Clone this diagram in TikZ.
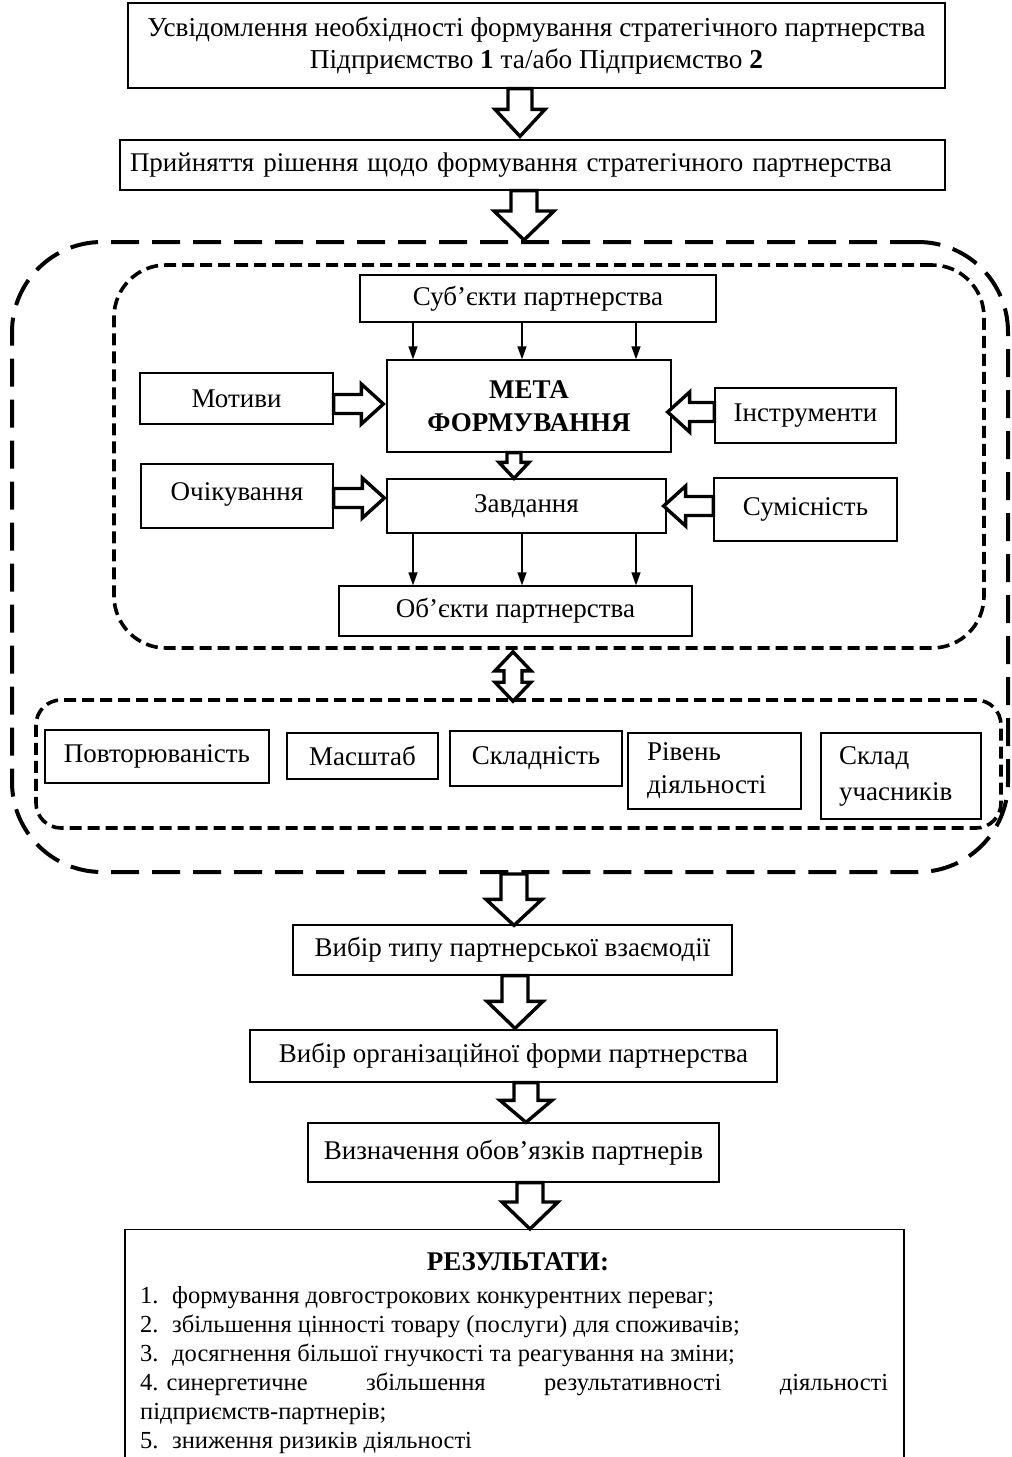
\documentclass[tikz,border=0pt]{standalone}
\usepackage{fontspec}
\setmainfont{Liberation Serif}
\usetikzlibrary{calc,arrows.meta}
\newcommand\fsz{\fontsize{27pt}{32pt}\selectfont}
\newcommand\rsz{\fontsize{24.5pt}{29pt}\selectfont}
\newcommand\numlab[1]{\makebox[32pt][l]{#1}}
\tikzset{
  box/.style={draw, line width=1.3pt, inner sep=0pt, align=center, font=\fsz},
  leftbox/.style={box, align=left},
  blockarrow/.style={draw, line width=3.4pt, fill=white, line join=miter, miter limit=10},
  outerdash/.style={draw, line width=4pt, dash pattern=on 28pt off 13pt, rounded corners=90pt, inner sep=0pt},
  innerdash/.style={draw, line width=3.6pt, dash pattern=on 12pt off 6pt, inner sep=0pt},
  thinarrow/.style={line width=1.4pt, -{Triangle[length=13pt,width=9pt]}},
  txt/.style={font=\rsz, inner sep=0pt}
}
\newcommand\blockarr[5]{%
  \coordinate (bh) at ($(#2)!#5!(#1)$);
  \draw[blockarrow] ($(#1)!#3!90:(#2)$) -- ($(bh)!#3!90:(#2)$) -- ($(bh)!#4!90:(#2)$) -- (#2)
     -- ($(bh)!#4!-90:(#2)$) -- ($(bh)!#3!-90:(#2)$) -- ($(#1)!#3!-90:(#2)$) -- cycle;}
\newcommand\blockdarr[5]{%
  \coordinate (bha) at ($(#1)!#5!(#2)$);
  \coordinate (bhb) at ($(#2)!#5!(#1)$);
  \draw[blockarrow] (#1) -- ($(bha)!#4!90:(#2)$) -- ($(bha)!#3!90:(#2)$) -- ($(bhb)!#3!90:(#2)$)
     -- ($(bhb)!#4!90:(#2)$) -- (#2) -- ($(bhb)!#4!-90:(#2)$) -- ($(bhb)!#3!-90:(#2)$)
     -- ($(bha)!#3!-90:(#2)$) -- ($(bha)!#4!-90:(#2)$) -- cycle;}
\begin{document}
\begin{tikzpicture}[x=1pt,y=-1pt]
\useasboundingbox (0,0) rectangle (1012,1457);

% dashed groups
\node[outerdash, minimum width=996pt, minimum height=630pt] (outer) at (510,557) {};
\node[innerdash, rounded corners=52pt, minimum width=870pt, minimum height=383pt] (grp1) at (549,456.5) {};
\node[innerdash, rounded corners=25pt, minimum width=965pt, minimum height=128pt] (grp2) at (518.5,764) {};

% top boxes
\node[box, minimum width=817pt, minimum height=85pt, font=\fontsize{27.3pt}{32pt}\selectfont] (top) at (536.5,45.5)
  {Усвідомлення необхідності формування стратегічного партнерства\\Підприємство \textbf{1} та/або Підприємство \textbf{2}};
\node[leftbox, minimum width=825pt, minimum height=50pt, text width=805pt, inner xsep=10pt] (decide) at (532.5,165)
  {Прийняття рішення щодо формування стратегічного партнерства};

% inner group 1
\node[box, minimum width=356pt, minimum height=47pt] (subj) at (538,298.5) {Суб’єкти партнерства};
\node[box, minimum width=284pt, minimum height=92pt, font=\fontsize{27pt}{33pt}\selectfont\bfseries] (meta) at (529,406) {МЕТА\\ФОРМУВАННЯ};
\node[box, minimum width=193pt, minimum height=51pt] (mot) at (236.5,398.5) {Мотиви};
\node[box, minimum width=181pt, minimum height=55pt] (instr) at (805.5,415.5) {Інструменти};
\node[box, minimum width=279pt, minimum height=54pt] (task) at (526.5,506) {Завдання};
\node[box, minimum width=192pt, minimum height=64pt] (expect) at (237,496) {\raisebox{9pt}{Очікування}};
\node[box, minimum width=183pt, minimum height=63pt] (compat) at (805.5,509.5) {Сумісність};
\node[box, minimum width=353pt, minimum height=50pt] (obj) at (515.5,611) {Об’єкти партнерства};

% inner group 2
\node[box, minimum width=224pt, minimum height=53pt] (rep) at (157,756.5) {Повторюваність};
\node[box, minimum width=151pt, minimum height=46pt] (scl) at (362.5,756) {Масштаб};
\node[box, minimum width=172pt, minimum height=55pt] (cmpx) at (536,758.5) {Складність};
\node[leftbox, minimum width=173pt, minimum height=76pt, text width=135pt, inner xsep=19pt, font=\fontsize{27pt}{33pt}\selectfont] (lvl) at (714.5,771) {Рівень\\діяльності};
\node[leftbox, minimum width=160pt, minimum height=86pt, text width=124pt, inner xsep=18pt, font=\fontsize{27pt}{36pt}\selectfont] (memb) at (901,776) {Склад\\учасників};

% lower boxes
\node[box, minimum width=439pt, minimum height=50pt] (type) at (512.5,950) {Вибір типу партнерської взаємодії};
\node[box, minimum width=527pt, minimum height=52pt] (form) at (513.5,1056) {Вибір організаційної форми партнерства};
\node[box, minimum width=411pt, minimum height=59pt] (duty) at (513.5,1152.5) {Визначення обов’язків партнерів};
\node[draw, line width=1.3pt, inner sep=0pt, anchor=north, minimum width=779pt, minimum height=250pt] (res) at (514.5,1229) {};

% results text
\node[txt, anchor=base, font=\fontsize{27pt}{32pt}\selectfont\bfseries] (rtitle) at (518,1270) {РЕЗУЛЬТАТИ:};
\node[txt, anchor=base west] (r1) at (140,1303) {\numlab{1.}формування довгострокових конкурентних переваг;};
\node[txt, anchor=base west] (r2) at (140,1332) {\numlab{2.}збільшення цінності товару (послуги) для споживачів;};
\node[txt, anchor=base west] (r3) at (140,1361) {\numlab{3.}досягнення більшої гнучкості та реагування на зміни;};
\node[txt, anchor=base west] (r4) at (140,1390) {\makebox[748pt][s]{4. синергетичне\hfill збільшення\hfill результативності\hfill діяльності}};
\node[txt, anchor=base west] (r4b) at (140,1419) {підприємств-партнерів;};
\node[txt, anchor=base west] (r5) at (140,1448) {\numlab{5.}зниження ризиків діяльності};

% guide x-positions
\coordinate (xa) at (520,0);
\coordinate (xb) at (524,0);
\coordinate (xc) at (514,0);
\coordinate (xd) at (513,0);
\coordinate (xe) at (515,0);
\coordinate (xf) at (526,0);
\coordinate (xg) at (530,0);
\coordinate (xl) at (413,0);
\coordinate (xm) at (522,0);
\coordinate (xr) at (636,0);
\coordinate (yl) at (0,404);
\coordinate (yr) at (0,412);
\coordinate (yel) at (0,498);
\coordinate (yer) at (0,506);

% thin arrows
\draw[thinarrow] (subj.south -| xl) -- (meta.north -| xl);
\draw[thinarrow] (subj.south -| xm) -- (meta.north -| xm);
\draw[thinarrow] (subj.south -| xr) -- (meta.north -| xr);
\draw[thinarrow] (task.south -| xl) -- (obj.north -| xl);
\draw[thinarrow] (task.south -| xm) -- (obj.north -| xm);
\draw[thinarrow] (task.south -| xr) -- (obj.north -| xr);

% block arrows
\coordinate (a1s) at (top.south -| xa);  \coordinate (a1e) at ($(decide.north -| xa)+(0,-3)$);
\blockarr{a1s}{a1e}{12pt}{25pt}{27pt}
\coordinate (a2s) at (decide.south -| xb); \coordinate (a2e) at (outer.north -| xb);
\blockarr{a2s}{a2e}{13pt}{30pt}{29pt}
\coordinate (a3s) at (mot.east |- yl); \coordinate (a3e) at ($(meta.west |- yl)+(-3,0)$);
\blockarr{a3s}{a3e}{9.5pt}{20pt}{22pt}
\coordinate (a4s) at (instr.west |- yr); \coordinate (a4e) at ($(meta.east |- yr)+(-4,0)$);
\blockarr{a4s}{a4e}{9.5pt}{20pt}{22pt}
\coordinate (a5s) at (expect.east |- yel); \coordinate (a5e) at ($(task.west |- yel)+(-2,0)$);
\blockarr{a5s}{a5e}{9.5pt}{20pt}{22pt}
\coordinate (a6s) at (compat.west |- yer); \coordinate (a6e) at ($(task.east |- yer)+(-3,0)$);
\blockarr{a6s}{a6e}{9.5pt}{20pt}{22pt}
\coordinate (a7s) at (meta.south -| xc); \coordinate (a7e) at (task.north -| xc);
\blockarr{a7s}{a7e}{7pt}{15pt}{16pt}
\coordinate (a8s) at ($(grp1.south -| xd)+(0,2)$); \coordinate (a8e) at ($(grp2.north -| xd)+(0,3)$);
\blockdarr{a8s}{a8e}{9pt}{18pt}{19pt}
\coordinate (a9s) at (outer.south -| xc); \coordinate (a9e) at ($(type.north -| xc)+(0,1)$);
\blockarr{a9s}{a9e}{13pt}{28pt}{26pt}
\coordinate (a10s) at (type.south -| xe); \coordinate (a10e) at ($(form.north -| xe)+(0,-1)$);
\blockarr{a10s}{a10e}{13pt}{28pt}{27pt}
\coordinate (a11s) at (form.south -| xf); \coordinate (a11e) at (duty.north -| xf);
\blockarr{a11s}{a11e}{12pt}{26pt}{22pt}
\coordinate (a12s) at (duty.south -| xg); \coordinate (a12e) at (res.north -| xg);
\blockarr{a12s}{a12e}{13pt}{28pt}{27pt}
\end{tikzpicture}
\end{document}
